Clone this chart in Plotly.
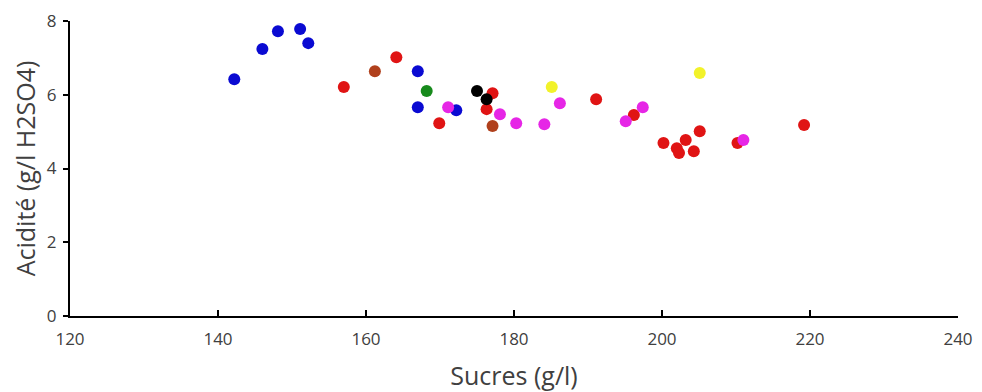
import plotly.graph_objects as go

# Data (Sucres g/l, Acidité g/l H2SO4), grouped by marker colour
blue_x = [142.2, 146.0, 148.1, 151.1, 152.2, 167.0, 167.0, 172.2]
blue_y = [6.42, 7.24, 7.72, 7.78, 7.40, 6.64, 5.66, 5.58]

red_x = [157.0, 164.1, 169.9, 177.1, 176.3, 191.1, 196.2, 200.2, 202.0, 202.3, 203.2, 204.3, 205.1, 210.2, 219.2]
red_y = [6.21, 7.02, 5.23, 6.04, 5.61, 5.88, 5.45, 4.69, 4.55, 4.42, 4.77, 4.47, 5.01, 4.69, 5.18]

brown_x = [161.2, 177.1]
brown_y = [6.64, 5.15]

green_x = [168.2]
green_y = [6.10]

black_x = [175.0, 176.3]
black_y = [6.10, 5.88]

yellow_x = [185.1, 205.1]
yellow_y = [6.21, 6.59]

magenta_x = [171.1, 178.1, 180.3, 184.1, 186.2, 195.1, 197.4, 211.0]
magenta_y = [5.66, 5.47, 5.23, 5.20, 5.77, 5.28, 5.66, 4.77]

x_ticks = [120, 140, 160, 180, 200, 220, 240]
y_ticks = [0, 2, 4, 6, 8]

groups = [
    (blue_x, blue_y, "#0a0ad2"),
    (brown_x, brown_y, "#b0401c"),
    (red_x, red_y, "#e01414"),
    (green_x, green_y, "#178a1c"),
    (yellow_x, yellow_y, "#f2f22a"),
    (magenta_x, magenta_y, "#e626e6"),
    (black_x, black_y, "#000000"),
]

fig = go.Figure()
for xs, ys, col in groups:
    fig.add_trace(go.Scatter(x=xs, y=ys, mode="markers",
                             marker=dict(color=col, size=12, line=dict(width=0)),
                             showlegend=False, cliponaxis=False))

font_family = "Open Sans, Liberation Sans, sans-serif"
txt = "#404040"
fig.update_layout(
    width=982, height=392,
    margin=dict(l=62, r=32, t=13, b=84),
    paper_bgcolor="white", plot_bgcolor="white",
    font=dict(family=font_family, color=txt),
    xaxis=dict(range=[120, 240], tickvals=x_ticks, showgrid=False, zeroline=False,
               showline=True, linecolor="black", linewidth=2,
               ticks="inside", ticklen=6, tickwidth=1.5, tickcolor="black",
               ticklabelstandoff=7, automargin=False,
               tickfont=dict(size=17, color=txt),
               title=dict(text="Sucres (g/l)", font=dict(size=25, color=txt), standoff=18)),
    yaxis=dict(range=[0, 8], tickvals=y_ticks, showgrid=False, zeroline=False,
               showline=True, linecolor="black", linewidth=2,
               ticks="outside", ticklen=5, tickwidth=1.5, tickcolor="black",
               ticklabelstandoff=3, automargin=False,
               tickfont=dict(size=17, color=txt),
               title=dict(text="Acidité (g/l H2SO4)", font=dict(size=25, color=txt), standoff=15)),
)

fig.write_html("out.html")
